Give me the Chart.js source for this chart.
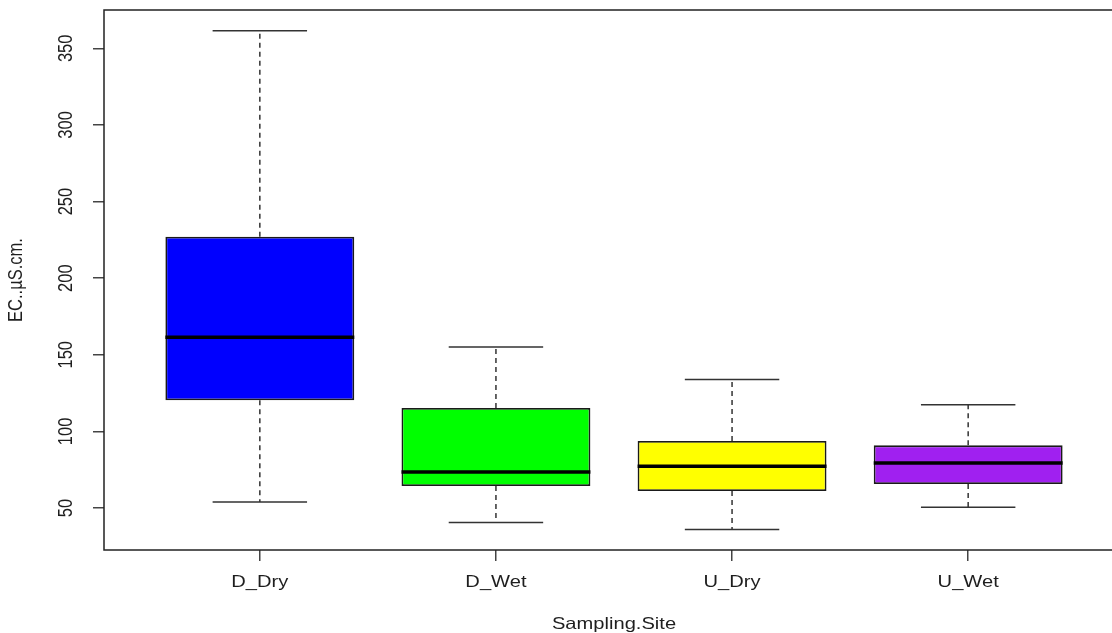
<!DOCTYPE html>
<html>
<head>
<meta charset="utf-8">
<script src="https://cdn.jsdelivr.net/npm/chart.js@4.4.1/dist/chart.umd.min.js"></script>
<style>
    html, body { margin: 0; padding: 0; background: #fff; overflow: hidden; }
    #wrap { width: 1130px; height: 633px; position: relative; }
</style>
</head>
<body>
<div id="wrap"><canvas id="boxChart"></canvas></div>
<script>
// Boxplot values (EC, uS/cm)
const categories = ['D_Dry', 'D_Wet', 'U_Dry', 'U_Wet'];
const whiskerLow = [54, 40.5, 36, 50.5];
const q1 = [120.3, 64.3, 61.1, 65.7];
const median = [161.5, 73.5, 77.3, 79.4];
const q3 = [227, 115.3, 93.7, 90.9];
const whiskerHigh = [361.5, 155, 133.9, 117.4];
const boxColors = ['#0000FF', '#00FF00', '#FFFF00', '#A020F0'];
const yTicks = [50, 100, 150, 200, 250, 300, 350];
const xTitle = 'Sampling.Site';
const yTitle = 'EC..\u00B5S.cm.';

const FONT = '16.5px "Liberation Sans", Arial, sans-serif';
const STRETCH = 1.22; // the source image is wider than tall, so text is stretched sideways

function drawText(ctx, text, x, y, rotate) {
    ctx.save();
    ctx.translate(x, y);
    ctx.scale(STRETCH, 1);
    if (rotate) ctx.rotate(-Math.PI / 2);
    ctx.font = FONT;
    ctx.fillStyle = '#1e1e1e';
    ctx.textAlign = 'center';
    ctx.textBaseline = 'alphabetic';
    ctx.fillText(text, 0, 0);
    ctx.restore();
}

const boxplotPlugin = {
    id: 'boxplotExtras',
    afterDatasetsDraw(chart) {
        const ctx = chart.ctx;
        const xs = chart.scales.x;
        const ys = chart.scales.y;
        ctx.save();
        categories.forEach((cat, i) => {
            const cx = xs.getPixelForValue(i + 1);
            const capL = xs.getPixelForValue(i + 1 - 0.2);
            const capR = xs.getPixelForValue(i + 1 + 0.2);
            const boxL = xs.getPixelForValue(i + 1 - 0.4);
            const boxR = xs.getPixelForValue(i + 1 + 0.4);

            // dashed whiskers
            ctx.strokeStyle = '#333';
            ctx.lineWidth = 1.5;
            ctx.setLineDash([5, 4]);
            ctx.beginPath();
            ctx.moveTo(cx, ys.getPixelForValue(q3[i]));
            ctx.lineTo(cx, ys.getPixelForValue(whiskerHigh[i]));
            ctx.moveTo(cx, ys.getPixelForValue(q1[i]));
            ctx.lineTo(cx, ys.getPixelForValue(whiskerLow[i]));
            ctx.stroke();

            // caps
            ctx.setLineDash([]);
            ctx.beginPath();
            ctx.moveTo(capL, ys.getPixelForValue(whiskerHigh[i]));
            ctx.lineTo(capR, ys.getPixelForValue(whiskerHigh[i]));
            ctx.moveTo(capL, ys.getPixelForValue(whiskerLow[i]));
            ctx.lineTo(capR, ys.getPixelForValue(whiskerLow[i]));
            ctx.stroke();

            // median
            ctx.strokeStyle = '#000';
            ctx.lineWidth = 3.5;
            ctx.beginPath();
            ctx.moveTo(boxL, ys.getPixelForValue(median[i]));
            ctx.lineTo(boxR, ys.getPixelForValue(median[i]));
            ctx.stroke();
        });

        // plot frame
        const a = chart.chartArea;
        ctx.strokeStyle = '#222';
        ctx.lineWidth = 1.5;
        ctx.strokeRect(a.left, a.top, a.right - a.left, a.bottom - a.top);
        ctx.restore();
    },
    afterDraw(chart) {
        const ctx = chart.ctx;
        const xs = chart.scales.x;
        const ys = chart.scales.y;
        const a = chart.chartArea;
        xs.ticks.forEach(t => {
            drawText(ctx, categories[t.value - 1], xs.getPixelForValue(t.value), 587, false);
        });
        ys.ticks.forEach(t => {
            drawText(ctx, String(t.value), 72, ys.getPixelForValue(t.value), true);
        });
        drawText(ctx, xTitle, 614, 629, false);
        drawText(ctx, yTitle, 22, (a.top + a.bottom) / 2, true);
    }
};

const ctx = document.getElementById('boxChart');
new Chart(ctx, {
    type: 'bar',
    data: {
        datasets: [{
            label: 'EC',
            data: categories.map((c, i) => ({ x: i + 1, y: [q1[i], q3[i]] })),
            backgroundColor: boxColors,
            borderColor: '#1a1a1a',
            borderWidth: 1.8,
            borderSkipped: false,
            barPercentage: 0.8,
            categoryPercentage: 1.0
        }]
    },
    options: {
        responsive: true,
        maintainAspectRatio: false,
        animation: false,
        layout: { padding: { left: 93, top: 10, right: 6, bottom: 72 } },
        plugins: {
            legend: { display: false },
            tooltip: { enabled: false }
        },
        scales: {
            x: {
                type: 'linear',
                min: 0.34,
                max: 4.66,
                offset: false,
                afterBuildTicks: s => { s.ticks = categories.map((c, i) => ({ value: i + 1 })); },
                ticks: { display: false },
                border: { display: false },
                grid: { offset: false, drawOnChartArea: false, drawTicks: true, tickLength: 11, color: '#444', lineWidth: 1.5 }
            },
            y: {
                min: 22.6,
                max: 375,
                afterBuildTicks: s => { s.ticks = yTicks.map(v => ({ value: v })); },
                ticks: { display: false },
                border: { display: false },
                grid: { drawOnChartArea: false, drawTicks: true, tickLength: 11, color: '#444', lineWidth: 1.5 }
            }
        }
    },
    plugins: [boxplotPlugin]
});
</script>
</body>
</html>
